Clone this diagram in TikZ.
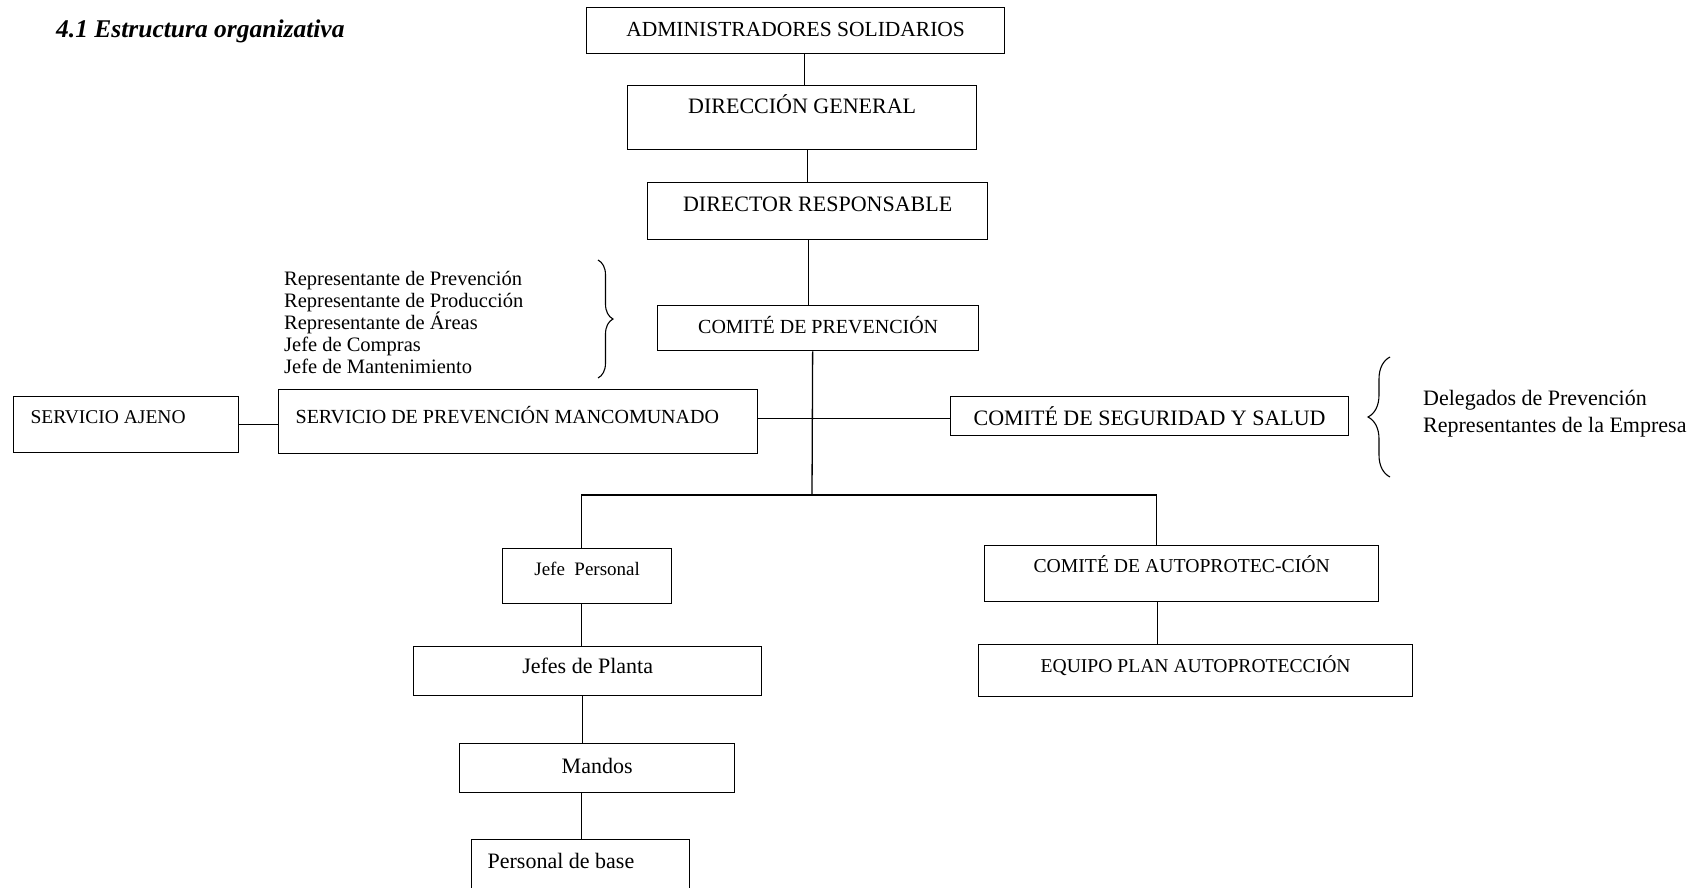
\documentclass[tikz,border=0pt]{standalone}
\usepackage{fontspec}
\setmainfont{Liberation Serif}
\usetikzlibrary{decorations.pathreplacing}
\tikzset{
  box/.style={draw, line width=1.3pt, anchor=north west, inner xsep=0pt, inner ysep=0pt},
  link/.style={line width=1.3pt},
  bracestyle/.style={line width=1.1pt, decorate, decoration={brace, amplitude=#1}},
}
\newcommand{\fsz}[2]{\fontsize{#1}{#2}\selectfont}
\begin{document}
\begin{tikzpicture}[x=1pt,y=-1pt]
\useasboundingbox (0,0) rectangle (1700,887);
\fill[white] (0,0) rectangle (1700,887);
\clip (0,0) rectangle (1700,887);

% title
\node[anchor=base west, inner sep=0pt, font=\fsz{25.5}{30}\bfseries\itshape] (title) at (56,37) {4.1 Estructura organizativa};

% boxes
\node[box, minimum width=418pt, minimum height=46pt, text height=29pt, text depth=17pt, font=\fsz{21.5}{26}] (admin) at (586,7) {ADMINISTRADORES SOLIDARIOS};
\node[box, minimum width=349pt, minimum height=64pt, text height=28pt, text depth=36pt, font=\fsz{22}{26}] (dg) at (627,85) {DIRECCIÓN GENERAL};
\node[box, minimum width=340pt, minimum height=57pt, text height=29pt, text depth=28pt, font=\fsz{22}{26}] (dr) at (647,182) {DIRECTOR RESPONSABLE};
\node[box, minimum width=321pt, minimum height=45pt, text height=28pt, text depth=17pt, font=\fsz{20}{24}] (cp) at (657,305) {COMITÉ DE PREVENCIÓN};
\node[box, minimum width=479pt, minimum height=64pt, inner xsep=17pt, text height=34pt, text depth=30pt, font=\fsz{20}{24}] (spm) at (278,389) {\makebox[445pt][l]{SERVICIO DE PREVENCIÓN MANCOMUNADO}};
\node[box, minimum width=225pt, minimum height=56pt, inner xsep=17pt, text height=27pt, text depth=29pt, font=\fsz{19.5}{24}] (sa) at (13,396) {\makebox[191pt][l]{SERVICIO AJENO}};
\node[box, minimum width=398pt, minimum height=39pt, text height=29pt, text depth=10pt, font=\fsz{22}{26}] (css) at (950,396) {COMITÉ DE SEGURIDAD Y SALUD};
\node[box, minimum width=169pt, minimum height=55pt, text height=27pt, text depth=28pt, font=\fsz{19}{23}] (jp) at (502,548) {Jefe\ \ Personal};
\node[box, minimum width=394pt, minimum height=56pt, text height=27pt, text depth=29pt, font=\fsz{19.7}{24}] (ca) at (984,545) {COMITÉ DE AUTOPROTEC-CIÓN};
\node[box, minimum width=348pt, minimum height=49pt, text height=27pt, text depth=22pt, font=\fsz{22}{26}] (jdp) at (413,646) {Jefes de Planta};
\node[box, minimum width=434pt, minimum height=52pt, text height=28pt, text depth=24pt, font=\fsz{19.6}{24}] (epa) at (978,644) {EQUIPO PLAN AUTOPROTECCIÓN};
\node[box, minimum width=275pt, minimum height=49pt, text height=30pt, text depth=19pt, font=\fsz{22}{26}] (mandos) at (459,743) {Mandos};
\node[box, minimum width=218pt, minimum height=60pt, inner xsep=16pt, text height=29pt, text depth=31pt, font=\fsz{22}{26}] (pdb) at (471,839) {\makebox[186pt][l]{Personal de base}};

% side lists
\node[anchor=north west, inner sep=0pt, align=left, font=\fsz{20.5}{22}] (leftlist) at (284,271) {Representante de Prevención\\Representante de Producción\\Representante de Áreas\\Jefe de Compras\\Jefe de Mantenimiento};
\node[anchor=north west, inner sep=0pt, align=left, font=\fsz{22}{26.5}] (rightlist) at (1423,390) {Delegados de Prevención\\Representantes de la Empresa};

% braces
\draw[bracestyle=15pt] (598,260) -- (598,378);
\draw[bracestyle=22pt] (1390,477) -- (1390,357);

% connectors
\coordinate (bus) at (812,495);
\draw[link] ([xshift=9pt]admin.south) -- ([xshift=9pt]admin.south |- dg.north);
\draw[link] ([xshift=5.5pt]dg.south) -- ([xshift=5.5pt]dg.south |- dr.north);
\draw[link] ([xshift=-9pt]dr.south) -- ([xshift=-9pt]dr.south |- cp.north);
\draw[link] ([xshift=-5.5pt]cp.south) -- (bus);
\draw[link] ([yshift=-2.5pt]css.west) -- ([yshift=-2.5pt]css.west -| spm.east);
\draw[link] (sa.east) -- (sa.east -| spm.west);
\draw[link] ([xshift=-5.5pt]jp.north) |- (bus) -| ([xshift=-25pt]ca.north);
\draw[link] ([xshift=-5.5pt]jp.south) -- ([xshift=-5.5pt]jp.south |- jdp.north);
\draw[link] ([xshift=-5pt]jdp.south) -- ([xshift=-5pt]jdp.south |- mandos.north);
\draw[link] ([xshift=-15.5pt]mandos.south) -- ([xshift=-15.5pt]mandos.south |- pdb.north);
\draw[link] ([xshift=-24pt]ca.south) -- ([xshift=-24pt]ca.south |- epa.north);
\end{tikzpicture}
\end{document}
